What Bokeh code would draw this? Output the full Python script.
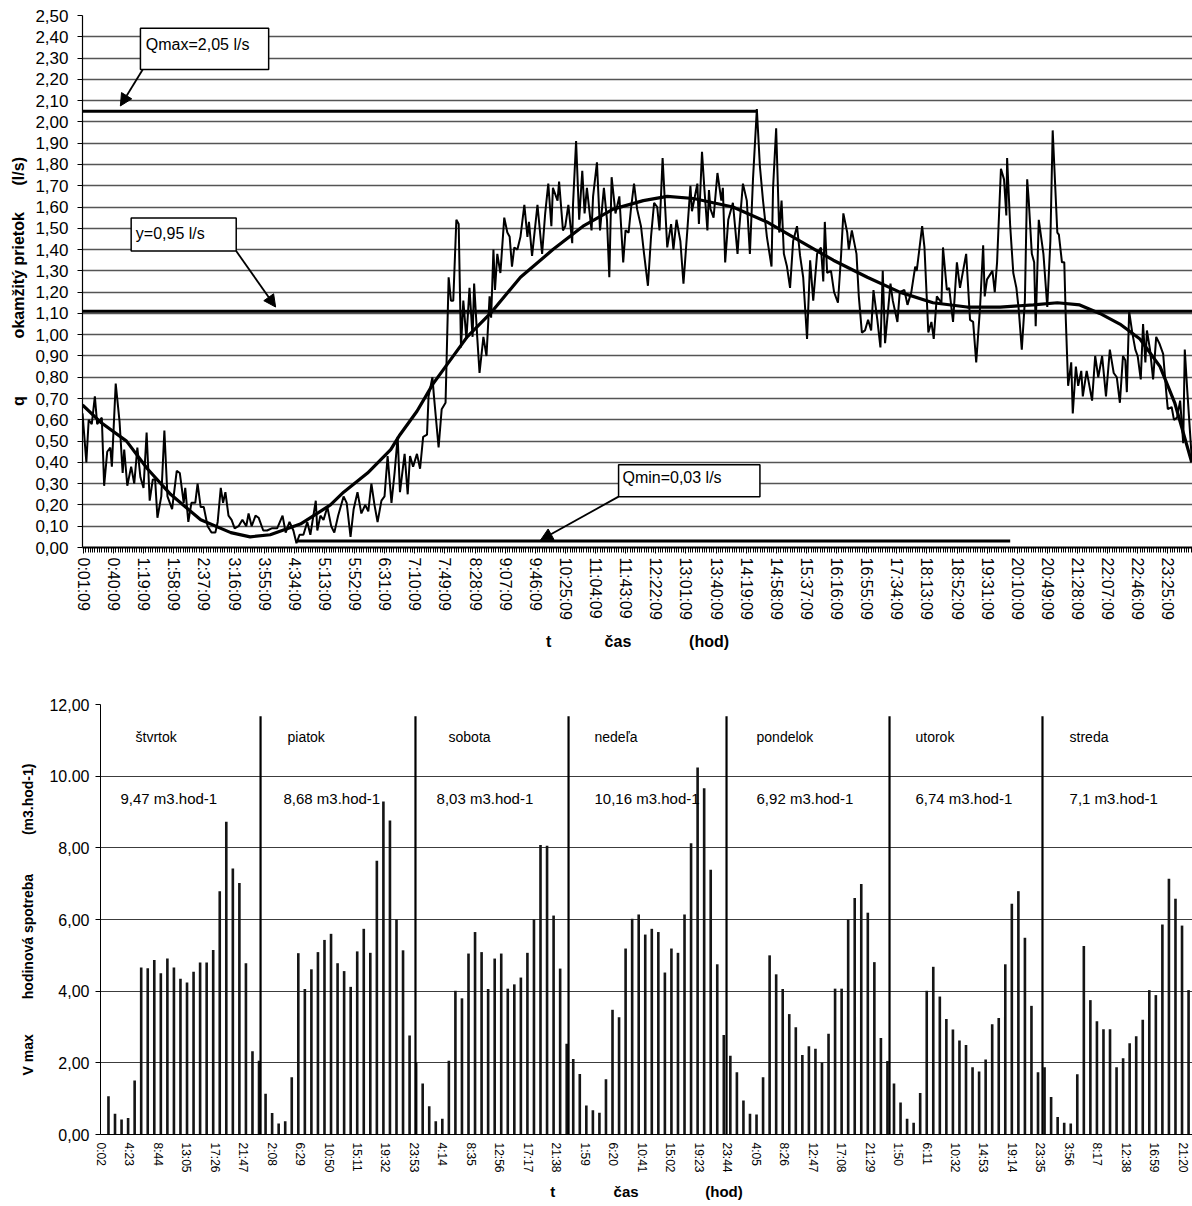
from bokeh.plotting import figure
from bokeh.models import (Range1d, FixedTicker, CustomJSTickFormatter, Label, Arrow,
                          NormalHead, BoxAnnotation)
from bokeh.embed import file_html
from bokeh.resources import INLINE

FONT = "Liberation Sans"
NB = "\u00a0"

# ---------------- top chart data (minutes after midnight, l/s) ----------------
Q_T = [0, 5, 8, 12, 16, 19, 25, 28, 32, 36,
       38, 43, 48, 52, 54, 58, 63, 67, 71, 75,
       79, 83, 87, 91, 94, 97, 102, 106, 110, 116,
       122, 126, 131, 133, 137, 141, 146, 149, 153, 157,
       162, 167, 172, 175, 179, 182, 185, 189, 193, 197,
       202, 207, 212, 215, 219, 224, 228, 234, 239, 245,
       252, 259, 263, 268, 273, 277, 281, 286, 291, 295,
       302, 304, 308, 312, 317, 322, 326, 331, 338, 342,
       347, 351, 356, 361, 366, 370, 374, 378, 382, 387,
       391, 395, 400, 404, 408, 411, 417, 421, 424, 428,
       433, 437, 441, 446, 448, 453, 455, 461, 465, 470,
       474, 477, 480, 484, 487, 490, 493, 497, 501, 505,
       507, 511, 514, 519, 523, 527, 529, 532, 534, 537,
       541, 546, 550, 553, 556, 559, 563, 567, 572, 576,
       578, 582, 589, 595, 599, 603, 607, 609, 615, 617,
       622, 625, 629, 634, 635, 639, 643, 647, 650, 653,
       659, 661, 666, 670, 675, 679, 682, 685, 690, 695,
       700, 703, 707, 710, 714, 718, 723, 727, 732, 736,
       740, 744, 747, 751, 754, 757, 762, 765, 769, 774,
       778, 783, 787, 789, 796, 798, 802, 805, 809, 811,
       813, 817, 822, 827, 829, 832, 836, 842, 848, 850,
       855, 860, 864, 868, 873, 877, 881, 886, 892, 894,
       898, 902, 905, 908, 912, 916, 920, 925, 929, 933,
       938, 942, 946, 951, 956, 959, 961, 964, 969, 973,
       978, 982, 985, 990, 992, 996, 1002, 1005, 1009, 1013,
       1017, 1021, 1024, 1029, 1033, 1036, 1039, 1046, 1049, 1055,
       1058, 1064, 1068, 1073, 1078, 1080, 1087, 1090, 1095, 1099,
       1102, 1106, 1112, 1114, 1119, 1122, 1127, 1132, 1136, 1144,
       1149, 1153, 1157, 1162, 1166, 1168, 1171, 1178, 1181, 1184,
       1189, 1193, 1196, 1197, 1201, 1205, 1209, 1212, 1216, 1220,
       1223, 1225, 1229, 1232, 1234, 1238, 1244, 1249, 1253, 1256,
       1262, 1264, 1268, 1271, 1273, 1276, 1280, 1282, 1286, 1289,
       1293, 1295, 1300, 1307, 1311, 1315, 1320, 1325, 1330, 1335,
       1339, 1343, 1347, 1350, 1352, 1355, 1359, 1363, 1366, 1370,
       1373, 1376, 1378, 1382, 1386, 1390, 1394, 1399, 1403, 1405,
       1410, 1413, 1417, 1421, 1425, 1427, 1430, 1436]
Q_V = [0.63, 0.40, 0.60, 0.58, 0.71, 0.58, 0.61, 0.29, 0.45, 0.47,
       0.38, 0.77, 0.59, 0.35, 0.46, 0.29, 0.38, 0.30, 0.47, 0.33,
       0.28, 0.54, 0.22, 0.32, 0.32, 0.14, 0.24, 0.55, 0.24, 0.18,
       0.36, 0.35, 0.21, 0.28, 0.12, 0.21, 0.21, 0.30, 0.19, 0.19,
       0.10, 0.07, 0.07, 0.12, 0.28, 0.21, 0.26, 0.15, 0.13, 0.09,
       0.10, 0.13, 0.10, 0.16, 0.10, 0.15, 0.14, 0.08, 0.08, 0.09,
       0.09, 0.15, 0.07, 0.12, 0.08, 0.02, 0.06, 0.06, 0.12, 0.06,
       0.22, 0.08, 0.15, 0.13, 0.19, 0.10, 0.07, 0.15, 0.24, 0.21,
       0.05, 0.18, 0.26, 0.16, 0.20, 0.17, 0.30, 0.20, 0.12, 0.22,
       0.24, 0.43, 0.21, 0.35, 0.52, 0.26, 0.44, 0.25, 0.43, 0.38,
       0.44, 0.37, 0.52, 0.53, 0.71, 0.80, 0.71, 0.47, 0.65, 0.68,
       1.27, 1.16, 1.16, 1.54, 1.52, 0.94, 1.16, 0.98, 1.22, 0.99,
       1.24, 0.99, 0.82, 0.99, 0.90, 1.18, 1.08, 1.40, 1.21, 1.38,
       1.29, 1.55, 1.48, 1.46, 1.32, 1.41, 1.40, 1.46, 1.61, 1.46,
       1.53, 1.37, 1.61, 1.38, 1.57, 1.71, 1.51, 1.69, 1.63, 1.72,
       1.49, 1.51, 1.61, 1.43, 1.61, 1.91, 1.54, 1.77, 1.57, 1.69,
       1.49, 1.65, 1.81, 1.49, 1.69, 1.54, 1.27, 1.74, 1.57, 1.65,
       1.34, 1.49, 1.48, 1.59, 1.71, 1.59, 1.51, 1.38, 1.23, 1.46,
       1.62, 1.60, 1.49, 1.83, 1.62, 1.41, 1.52, 1.40, 1.54, 1.44,
       1.24, 1.49, 1.70, 1.58, 1.71, 1.52, 1.86, 1.69, 1.49, 1.68,
       1.59, 1.55, 1.76, 1.63, 1.69, 1.34, 1.54, 1.62, 1.38, 1.49,
       1.71, 1.63, 1.38, 1.73, 2.06, 1.79, 1.63, 1.46, 1.32, 1.69,
       1.97, 1.48, 1.63, 1.38, 1.32, 1.22, 1.44, 1.51, 1.37, 1.27,
       0.98, 1.35, 1.16, 1.38, 1.41, 1.25, 1.53, 1.29, 1.30, 1.20,
       1.15, 1.37, 1.57, 1.48, 1.40, 1.49, 1.38, 1.18, 1.01, 1.02,
       1.07, 1.02, 1.21, 1.07, 0.94, 1.30, 0.96, 1.24, 1.16, 1.06,
       1.20, 1.21, 1.14, 1.20, 1.32, 1.30, 1.51, 1.41, 1.01, 1.06,
       0.98, 1.18, 1.15, 1.41, 1.21, 1.22, 1.06, 1.34, 1.22, 1.38,
       1.07, 1.06, 0.87, 1.13, 1.42, 1.18, 1.26, 1.30, 1.20, 1.34,
       1.78, 1.73, 1.56, 1.83, 1.51, 1.29, 1.22, 1.12, 0.93, 1.16,
       1.73, 1.63, 1.38, 1.34, 1.04, 1.54, 1.38, 1.13, 1.44, 1.96,
       1.48, 1.47, 1.34, 1.34, 1.07, 0.76, 0.87, 0.63, 0.85, 0.76,
       0.83, 0.71, 0.83, 0.69, 0.90, 0.80, 0.90, 0.71, 0.93, 0.82,
       0.80, 0.68, 0.90, 0.88, 0.73, 1.11, 1.01, 0.93, 0.90, 0.79,
       1.05, 0.87, 1.02, 0.93, 0.79, 0.99, 0.96, 0.91, 0.73, 0.65,
       0.66, 0.60, 0.61, 0.69, 0.49, 0.93, 0.75, 0.42]

TREND_T = [0, 23, 57, 84, 114, 153, 192, 217, 243, 282, 321, 338, 369, 399, 411,
           433, 454, 470, 498, 528, 567, 609, 648, 687, 726, 757, 791, 842, 886, 929,
           972, 1016, 1058, 1101, 1145, 1188, 1231, 1262, 1291, 1317, 1343, 1369, 1395, 1414, 1436]
TREND_V = [0.67, 0.59, 0.50, 0.37, 0.25, 0.13, 0.07, 0.05, 0.06, 0.11, 0.20, 0.26, 0.35, 0.46, 0.53,
           0.64, 0.77, 0.85, 0.99, 1.10, 1.27, 1.40, 1.51, 1.59, 1.63, 1.65, 1.64, 1.60, 1.53, 1.44,
           1.35, 1.27, 1.20, 1.15, 1.13, 1.13, 1.14, 1.15, 1.14, 1.10, 1.05, 0.98, 0.85, 0.68, 0.40]

QMAX_VALUE = 2.05
QMAX_END_T = 873
Y_LINE_VALUE = 1.11
QMIN_VALUE = 0.03
QMIN_T = [278, 1201]

TOP_Y_TICKS = [0.0, 0.1, 0.2, 0.3, 0.4, 0.5, 0.6, 0.7, 0.8, 0.9, 1.0, 1.1, 1.2,
               1.3, 1.4, 1.5, 1.6, 1.7, 1.8, 1.9, 2.0, 2.1, 2.2, 2.3, 2.4, 2.5]
TOP_X_LABELS = ["0:01:09", "0:40:09", "1:19:09", "1:58:09", "2:37:09", "3:16:09", "3:55:09",
                "4:34:09", "5:13:09", "5:52:09", "6:31:09", "7:10:09", "7:49:09", "8:28:09",
                "9:07:09", "9:46:09", "10:25:09", "11:04:09", "11:43:09", "12:22:09", "13:01:09",
                "13:40:09", "14:19:09", "14:58:09", "15:37:09", "16:16:09", "16:55:09", "17:34:09",
                "18:13:09", "18:52:09", "19:31:09", "20:10:09", "20:49:09", "21:28:09", "22:07:09",
                "22:46:09", "23:25:09"]

# ---------------- bottom chart data (hourly consumption, m3/h) ----------------
BAR_V = [
    # štvrtok
    1.07, 0.58, 0.42, 0.46, 1.51, 4.66, 4.64, 4.87, 4.50, 4.91, 4.66, 4.35,
    4.24, 4.54, 4.80, 4.80, 5.15, 6.79, 8.73, 7.42, 7.02, 4.78, 2.32, 2.06,
    # piatok
    1.14, 0.60, 0.31, 0.37, 1.60, 5.06, 4.06, 4.61, 5.09, 5.43, 5.60, 4.78,
    4.56, 4.12, 5.11, 5.74, 5.07, 7.64, 9.29, 8.76, 6.00, 5.14, 2.76, 2.00,
    # sobota
    1.42, 0.79, 0.37, 0.44, 2.06, 4.01, 3.80, 5.05, 5.65, 5.09, 4.06, 4.91,
    5.05, 4.07, 4.19, 4.38, 5.07, 6.00, 8.08, 8.06, 6.11, 4.63, 2.53,
    # nedeľa
    2.11, 1.69, 0.81, 0.68, 0.61, 1.54, 3.48, 3.27, 5.19, 6.02, 6.14, 5.58,
    5.74, 5.65, 4.52, 5.19, 5.07, 6.14, 8.13, 10.24, 9.66, 7.39, 4.75, 2.78,
    # pondelok
    2.20, 1.74, 0.95, 0.58, 0.56, 1.60, 5.00, 4.47, 4.06, 3.36, 2.99, 2.22, 2.46,
    2.39, 2.00, 2.81, 4.07, 4.07, 6.00, 6.60, 6.99, 6.19, 4.81, 2.69, 2.05, 1.42,
    # utorok
    0.89, 0.44, 0.33, 1.16, 4.01, 4.68, 3.85, 3.22, 2.93, 2.62, 2.50, 1.88,
    1.76, 2.09, 3.08, 3.25, 4.75, 6.44, 6.79, 5.49, 3.59, 1.74, 1.88,
    # streda
    1.05, 0.49, 0.33, 0.31, 1.68, 5.26, 3.75, 3.16, 2.94, 2.94, 1.88, 2.13,
    2.55, 2.74, 3.20, 4.03, 3.89, 5.86, 7.14, 6.58, 5.83, 4.03, 2.00,
]
BAR_FIRST_MIN = 73
BAR_STEP_MIN = 60
BAR_X = [BAR_FIRST_MIN + BAR_STEP_MIN * k for k in range(len(BAR_V))]

DAY_NAMES = ["štvrtok", "piatok", "sobota", "nedeľa", "pondelok", "utorok", "streda"]
DAY_MAX = ["9,47 m3.hod-1", "8,68 m3.hod-1", "8,03 m3.hod-1", "10,16 m3.hod-1",
           "6,92 m3.hod-1", "6,74 m3.hod-1", "7,1 m3.hod-1"]
DAY_NAME_X = [321, 1714, 3190, 4528, 6013, 7470, 8882]
DAY_MAX_X = [183, 1677, 3080, 4528, 6013, 7470, 8882]
SEP_X = [1467, 2887, 4290, 5738, 7232, 8634]
SEP_TOP = 11.67

BOTTOM_Y_TICKS = [0, 2, 4, 6, 8, 10, 12]
BOTTOM_Y_LABELS = ["0,00", "2,00", "4,00", "6,00", "8,00", "10.00", "12,00"]
BOTTOM_X_LABELS = ["0:02", "4:23", "8:44", "13:05", "17:26", "21:47", "2:08", "6:29", "10:50",
                   "15:11", "19:32", "23:53", "4:14", "8:35", "12:56", "17:17", "21:38", "1:59",
                   "6:20", "10:41", "15:02", "19:23", "23:44", "4:05", "8:26", "12:47", "17:08",
                   "21:29", "1:50", "6:11", "10:32", "14:53", "19:14", "23:35", "3:56", "8:17",
                   "12:38", "16:59", "21:20"]
BOTTOM_X_FIRST = 2
BOTTOM_X_STEP = 261


def hms_to_min(s):
    h, m, sec = s.split(":")
    return int(h) * 60 + int(m) + int(sec) / 60.0


def style_axes(p, tick_size):
    for ax in (p.xaxis[0], p.yaxis[0]):
        ax.major_label_text_font = FONT
        ax.major_label_text_font_size = tick_size
        ax.major_label_text_color = "black"
        ax.axis_label_text_font = FONT
        ax.axis_label_text_font_style = "bold"
        ax.axis_label_text_color = "black"
        ax.axis_line_color = "black"
        ax.major_tick_line_color = "black"
        ax.minor_tick_line_color = None
        ax.major_tick_in = 0
        ax.minor_tick_in = 0


# ================= TOP FIGURE =================
p1 = figure(width=1192, height=652, x_range=Range1d(0, 1437), y_range=Range1d(0, 2.5),
            output_backend="svg", toolbar_location=None)
p1.min_border_left = 82
p1.min_border_right = 0
p1.min_border_top = 15
p1.min_border_bottom = 104
p1.outline_line_color = None
p1.xgrid.visible = False
style_axes(p1, "17px")

yt = FixedTicker(ticks=TOP_Y_TICKS)
p1.yaxis.ticker = yt
p1.ygrid.ticker = yt
p1.ygrid.grid_line_color = "#555555"
p1.ygrid.grid_line_width = 1.4
p1.yaxis.formatter = CustomJSTickFormatter(code="return tick.toFixed(2).replace('.', ',');")
p1.yaxis.major_tick_out = 5
p1.yaxis.major_label_standoff = 9
p1.yaxis.axis_line_width = 1.2
p1.yaxis.axis_label = "q" + NB * 13 + "okamžitý prietok" + NB * 6 + "(l/s)"
p1.yaxis.axis_label_text_font_size = "16px"
p1.yaxis.axis_label_standoff = 5

top_x_ticks = [hms_to_min(s) for s in TOP_X_LABELS]
top_minor = [top_x_ticks[0] + 3 * i for i in range(480)]
p1.xaxis.ticker = FixedTicker(ticks=top_x_ticks, minor_ticks=top_minor)
p1.xaxis.formatter = CustomJSTickFormatter(
    args=dict(labels=TOP_X_LABELS, t0=top_x_ticks[0]),
    code="const i = Math.round((tick - t0) / 39); return labels[i];")
p1.xaxis.major_label_orientation = "vertical"
p1.xaxis.major_label_text_font_size = "16px"
p1.xaxis.major_tick_out = 6
p1.xaxis.minor_tick_out = 5
p1.xaxis.minor_tick_line_color = "black"
p1.xaxis.minor_tick_line_width = 1
p1.xaxis.axis_line_width = 2
p1.xaxis.major_label_standoff = 4
p1.xaxis.axis_label = "t" + NB * 12 + "čas" + NB * 13 + "(hod)"
p1.xaxis.axis_label_text_font_size = "16px"
p1.xaxis.axis_label_standoff = 10

# reference lines
p1.line([0, QMAX_END_T], [QMAX_VALUE, QMAX_VALUE], line_color="black", line_width=3)
p1.line([0, 1437], [Y_LINE_VALUE, Y_LINE_VALUE], line_color="black", line_width=3)
p1.line(QMIN_T, [QMIN_VALUE, QMIN_VALUE], line_color="black", line_width=3)

# measured flow and trend
p1.line(Q_T, Q_V, line_color="black", line_width=2)
p1.line(TREND_T, TREND_V, line_color="black", line_width=3.2)

# annotation boxes
boxes = [
    (75, 241, 2.44, 2.246, "Qmax=2,05 l/s", 82, 2.364, (78, 2.246, 49, 2.075)),
    (63, 199, 1.548, 1.393, "y=0,95 l/s", 69, 1.477, (199, 1.393, 250, 1.13)),
    (694, 877, 0.389, 0.239, "Qmin=0,03 l/s", 699, 0.328, (694, 0.239, 593, 0.035)),
]
for left, right, top, bottom, txt, tx, ty, arr in boxes:
    p1.add_layout(BoxAnnotation(left=left, right=right, top=top, bottom=bottom,
                                fill_color="white", fill_alpha=1.0,
                                line_color="black", line_width=1.5, line_alpha=1.0))
    p1.add_layout(Label(x=tx, y=ty, text=txt, text_font=FONT, text_font_size="16px",
                        text_baseline="middle", text_align="left", text_color="black"))
    p1.add_layout(Arrow(end=NormalHead(size=12, fill_color="black", line_color="black"),
                        x_start=arr[0], y_start=arr[1], x_end=arr[2], y_end=arr[3],
                        line_color="black", line_width=1.8))

# ================= BOTTOM FIGURE =================
p2 = figure(width=1192, height=550, x_range=Range1d(0, 10009), y_range=Range1d(0, 12),
            output_backend="svg", toolbar_location=None)
p2.min_border_left = 100
p2.min_border_right = 0
p2.min_border_top = 52
p2.min_border_bottom = 64
p2.outline_line_color = None
p2.xgrid.visible = False
style_axes(p2, "16px")

by = FixedTicker(ticks=BOTTOM_Y_TICKS)
p2.yaxis.ticker = by
p2.ygrid.ticker = FixedTicker(ticks=[2, 4, 6, 8, 10])
p2.ygrid.grid_line_color = "#3c3c3c"
p2.ygrid.grid_line_width = 1.2
p2.yaxis.formatter = CustomJSTickFormatter(args=dict(labels=BOTTOM_Y_LABELS),
                                           code="return labels[Math.round(tick / 2)];")
p2.yaxis.major_tick_out = 5
p2.yaxis.major_label_standoff = 6
p2.yaxis.axis_label = "V max" + NB * 9 + "hodinová spotreba" + NB * 10 + "(m3.hod-1)"
p2.yaxis.axis_label_text_font_size = "14px"
p2.yaxis.axis_label_standoff = 10

bottom_x_ticks = [BOTTOM_X_FIRST + BOTTOM_X_STEP * j for j in range(len(BOTTOM_X_LABELS))]
p2.xaxis.ticker = FixedTicker(ticks=bottom_x_ticks)
p2.xaxis.formatter = CustomJSTickFormatter(
    args=dict(labels=BOTTOM_X_LABELS, t0=BOTTOM_X_FIRST, step=BOTTOM_X_STEP),
    code="return labels[Math.round((tick - t0) / step)];")
p2.xaxis.major_label_orientation = "vertical"
p2.xaxis.major_label_text_font_size = "12px"
p2.xaxis.major_tick_out = 0
p2.xaxis.major_label_standoff = 8
p2.xaxis.axis_line_width = 1.2
p2.xaxis.axis_label = "t" + NB * 14 + "čas" + NB * 16 + "(hod)"
p2.xaxis.axis_label_text_font_size = "15px"
p2.xaxis.axis_label_standoff = 7

p2.vbar(x=BAR_X, top=BAR_V, width=24, bottom=0, fill_color="#151515", line_color=None)
p2.segment(x0=SEP_X, y0=[0] * len(SEP_X), x1=SEP_X, y1=[SEP_TOP] * len(SEP_X),
           line_color="black", line_width=2.2)

for name, nx in zip(DAY_NAMES, DAY_NAME_X):
    p2.add_layout(Label(x=nx, y=11.08, text=name, text_font=FONT, text_font_size="14px",
                        text_baseline="middle", text_align="left", text_color="black"))
for txt, vx in zip(DAY_MAX, DAY_MAX_X):
    p2.add_layout(Label(x=vx, y=9.39, text=txt, text_font=FONT, text_font_size="15px",
                        text_baseline="middle", text_align="left", text_color="black"))

open("out.html", "w").write(file_html([p1, p2], INLINE))
